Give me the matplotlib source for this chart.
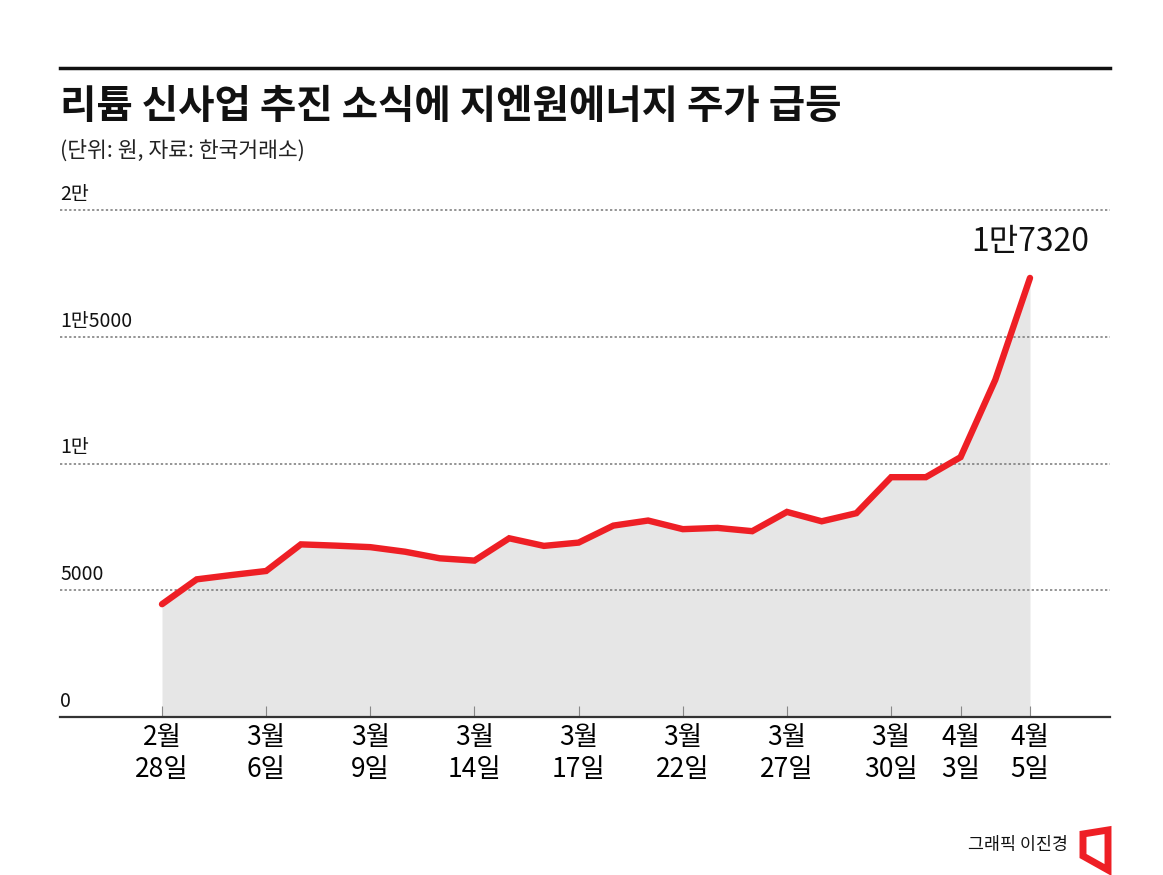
import matplotlib
matplotlib.use("Agg")
import matplotlib.pyplot as plt
from matplotlib.patches import Polygon
from matplotlib.lines import Line2D

plt.rcParams['font.family'] = ['Noto Sans CJK KR', 'DejaVu Sans']

# 거래일 순번 (2월 28일 ~ 4월 5일)
day_idx = list(range(26))
price = [4450, 5430, 5600, 5760, 6810, 6760, 6700, 6520, 6260, 6170,
         7050, 6750, 6880, 7550, 7750, 7410, 7460, 7330, 8090, 7720,
         8040, 9460, 9460, 10250, 13300, 17320]

tick_pos = [0, 3, 6, 9, 12, 15, 18, 21, 23, 25]
tick_labels = ['2월\n28일', '3월\n6일', '3월\n9일', '3월\n14일', '3월\n17일',
               '3월\n22일', '3월\n27일', '3월\n30일', '4월\n3일', '4월\n5일']

y_vals = [0, 5000, 10000, 15000, 20000]
y_labels = ['0', '5000', '1만', '1만5000', '2만']

W, H = 1163, 875
fig = plt.figure(figsize=(W / 100, H / 100), dpi=100)
ax = fig.add_axes([60 / W, (H - 717) / H, 1050 / W, 507 / H])

step = (1030 - 162) / 25
ax.set_xlim(-(162 - 60) / step, 25 + (1110 - 1030) / step)
ax.set_ylim(0, 20000)

ax.fill_between(day_idx, price, 0, color='#e6e6e6', lw=0, zorder=1)
ax.plot(day_idx, price, color='#ee1f25', lw=4.6, solid_capstyle='round',
        solid_joinstyle='miter', zorder=3)

for v, lab in zip(y_vals, y_labels):
    if v > 0:
        ax.axhline(v, color='#777777', lw=1.1, ls=(0, (1.5, 1.5)), zorder=2, clip_on=False)
    ax.text(0, v + 200, lab, transform=ax.get_yaxis_transform(), ha='left', va='bottom',
            fontsize=14, color='#111111')

for s in ['top', 'right', 'left']:
    ax.spines[s].set_visible(False)
ax.spines['bottom'].set_color('#333333')
ax.spines['bottom'].set_linewidth(1.6)
ax.set_yticks([])
ax.set_xticks(tick_pos)
ax.set_xticklabels(tick_labels, fontsize=19, linespacing=1.25)
ax.tick_params(axis='x', direction='in', length=8, width=0.8, color='#888888', pad=5)

ax.annotate('1만7320', (day_idx[-1], price[-1]), xytext=(0, 14), textcoords='offset points',
            ha='center', va='bottom', fontsize=23, color='#111111')

# 상단 선과 제목
fig.add_artist(Line2D([60 / W, 1110 / W], [1 - 68 / H, 1 - 68 / H], color='#111111', lw=2.5))
fig.text(60 / W, 1 - 106 / H, '리튬 신사업 추진 소식에 지엔원에너지 주가 급등', fontsize=28.5,
         fontweight='heavy', ha='left', va='center', color='#111111')
fig.text(60 / W, 1 - 151 / H, '(단위: 원, 자료: 한국거래소)', fontsize=15.5,
         ha='left', va='center', color='#222222')

fig.text(1068 / W, 1 - 845 / H, '그래픽 이진경', fontsize=12.5, ha='right', va='center',
         color='#111111')
logo = [(1083, 834), (1108, 830), (1108, 870), (1083, 856)]
fig.add_artist(Polygon([(x / W, 1 - y / H) for x, y in logo], closed=True, fill=False,
                       edgecolor='#ee1f25', lw=5, joinstyle='miter',
                       transform=fig.transFigure))

fig.savefig('out.png', dpi=100, facecolor='white')
